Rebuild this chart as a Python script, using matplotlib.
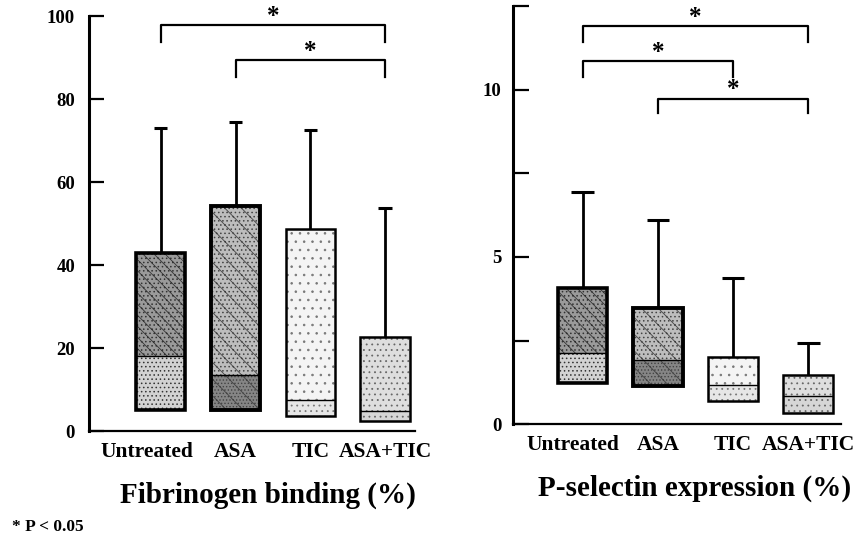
import matplotlib.pyplot as plt
import numpy as np
from matplotlib.transforms import ScaledTranslation

plt.rcParams['font.family'] = 'Liberation Serif'
plt.rcParams['font.weight'] = 'bold'
plt.rcParams['hatch.linewidth'] = 0.6

groups = ["Untreated", "ASA", "TIC", "ASA+TIC"]

# fibrinogen binding (%): box bottom, median, box top, upper whisker
fib_low = [5.0, 5.0, 3.5, 2.5]
fib_med = [18.0, 13.5, 7.5, 4.8]
fib_high = [43.0, 54.2, 48.7, 22.6]
fib_whisk = [73.0, 74.5, 72.5, 53.8]
# (from group, to group, bracket height, leg end)
fib_brackets = [(0, 3, 97.8, 93.7), (1, 3, 89.4, 85.3)]

# P-selectin expression (%)
psel_low = [1.22, 1.13, 0.68, 0.33]
psel_med = [2.14, 1.93, 1.16, 0.83]
psel_high = [4.08, 3.48, 2.02, 1.46]
psel_whisk = [6.95, 6.1, 4.38, 2.44]
psel_brackets = [(0, 3, 11.9, 11.43), (0, 2, 10.86, 10.39), (1, 3, 9.73, 9.29)]

# stipple look: grey tone plus a fine hatch
upper_face = ['#9a9a9a', '#bdbdbd', '#f4f4f4', '#dedede']
lower_face = ['#d2d2d2', '#858585', '#e6e6e6', '#d6d6d6']
upper_hatch = ['\\\\\\....', '\\\\....', '..', '...']
lower_hatch = ['....', '\\\\.....', '...', '...']
hatch_col = ['#333333', '#444444', '#777777', '#666666']
edge_w = [2.6, 2.8, 1.8, 1.8]


def draw_panel(ax, low, med, high, whisk, brackets, cap_w):
    x = np.arange(len(groups))
    w = 0.66
    for i in range(len(groups)):
        ax.bar(x[i], med[i] - low[i], bottom=low[i], width=w, color=lower_face[i],
               edgecolor=hatch_col[i], linewidth=0, hatch=lower_hatch[i])
        ax.bar(x[i], high[i] - med[i], bottom=med[i], width=w, color=upper_face[i],
               edgecolor=hatch_col[i], linewidth=0, hatch=upper_hatch[i])
        ax.bar(x[i], high[i] - low[i], bottom=low[i], width=w, fill=False,
               edgecolor='black', linewidth=edge_w[i])
    ax.hlines(med, x - w / 2, x + w / 2, color='black', lw=1.0)
    ax.vlines(x, high, whisk, color='black', lw=2.0)
    ax.hlines(whisk, x - cap_w / 2, x + cap_w / 2, color='black', lw=2.2)

    for i, j, ytop, ybot in brackets:
        ax.plot([x[i], x[i], x[j], x[j]], [ybot, ytop, ytop, ybot],
                color='black', lw=1.6, clip_on=False)
        ax.annotate('*', xy=((x[i] + x[j]) / 2, ytop), xytext=(0, -2),
                    textcoords='offset points', ha='center', va='bottom',
                    fontsize=18, annotation_clip=False)

    ax.set_xticks(x)
    ax.set_xticklabels(groups, fontsize=15.5)
    ax.tick_params(axis='x', length=0, pad=8)
    ax.spines['top'].set_visible(False)
    ax.spines['right'].set_visible(False)
    ax.spines['left'].set_linewidth(2.2)
    ax.spines['bottom'].set_linewidth(1.6)


fig = plt.figure(figsize=(8.63, 5.48), dpi=100)

ax1 = fig.add_axes([0.103, 0.2135, 0.378, 0.757])
draw_panel(ax1, fib_low, fib_med, fib_high, fib_whisk, fib_brackets, 0.18)
ax1.set_xlim(-0.96, 3.4)
ax1.set_ylim(0, 100)
ax1.set_yticks([0, 20, 40, 60, 80, 100])
ax1.tick_params(axis='y', direction='in', length=11, width=1.6, pad=10,
                labelsize=13.5)
lbl = ax1.get_xticklabels()[0]
lbl.set_transform(lbl.get_transform() + ScaledTranslation(-0.14, 0, fig.dpi_scale_trans))

ax2 = fig.add_axes([0.594, 0.226, 0.381, 0.763])
draw_panel(ax2, psel_low, psel_med, psel_high, psel_whisk, psel_brackets, 0.3)
ax2.set_xlim(-0.93, 3.44)
ax2.set_ylim(0, 12.5)
ax2.set_yticks([0, 2.5, 5, 7.5, 10, 12.5])
ax2.set_yticklabels(['0', '', '5', '', '10', ''])
ax2.tick_params(axis='y', direction='in', length=11.5, width=1.6, pad=8,
                labelsize=13.5)
lbl = ax2.get_xticklabels()[0]
lbl.set_transform(lbl.get_transform() + ScaledTranslation(-0.1, 0, fig.dpi_scale_trans))

fig.text(268 / 863, 1 - 495 / 548, "Fibrinogen binding (%)", ha='center',
         va='center', fontsize=21)
fig.text(695 / 863, 1 - 488 / 548, "P-selectin expression (%)", ha='center',
         va='center', fontsize=21)
fig.text(12 / 863, 1 - 527 / 548, "* P < 0.05", ha='left', va='center',
         fontsize=12.5)

fig.savefig('out.png', dpi=100)
